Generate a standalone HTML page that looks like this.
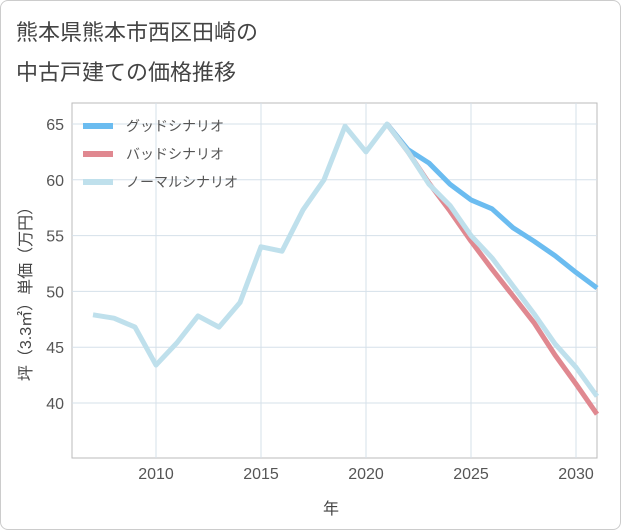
<!DOCTYPE html>
<html><head><meta charset="utf-8"><style>
body{margin:0;background:#fff;font-family:"Liberation Sans","Noto Sans CJK JP",sans-serif;}
.card{position:absolute;left:0;top:0;width:619px;height:528px;border:1px solid #ccc;border-radius:8px;background:#fff;}
</style></head><body>
<div class="card"></div>
<svg width="621" height="530" style="position:absolute;left:0;top:0">
<text x="16" y="40" font-size="22" fill="#444">熊本県熊本市西区田崎の</text>
<text x="16" y="80" font-size="22" fill="#444">中古戸建ての価格推移</text>
<g id="grid"></g><g id="series"></g><g id="legend"></g>
<text x="331" y="514" font-size="16" fill="#444" text-anchor="middle">年</text>
<text transform="translate(31,290) rotate(-90)" font-size="16" fill="#444" text-anchor="middle">坪（3.3㎡）単価（万円）</text>
</svg>
<script>
const years=[2007,2008,2009,2010,2011,2012,2013,2014,2015,2016,2017,2018,2019,2020,2021,2022,2023,2024,2025,2026,2027,2028,2029,2030,2031];
const normal=[47.9,47.6,46.8,43.4,45.4,47.8,46.8,49.0,54.0,53.6,57.3,60.0,64.8,62.5,65.0,62.5,59.6,57.7,55.0,53.0,50.5,48.0,45.3,43.2,40.6];
const fyears=[2021,2022,2023,2024,2025,2026,2027,2028,2029,2030,2031];
const good=[65.0,62.7,61.5,59.6,58.2,57.4,55.7,54.5,53.2,51.7,50.3];
const bad=[65.0,62.5,59.7,57.2,54.5,52.0,49.6,47.2,44.3,41.7,39.0];
const xTicks=[2010,2015,2020,2025,2030];
const yTicks=[40,45,50,55,60,65];
const labels=["グッドシナリオ","バッドシナリオ","ノーマルシナリオ"];
const NS="http://www.w3.org/2000/svg";
const X=y=>72+(y-2006)*21;
const Y=v=>124+(65-v)*11.16;
function mk(t,a,p){const e=document.createElementNS(NS,t);for(const k in a)e.setAttribute(k,a[k]);p.appendChild(e);return e;}
const g=document.getElementById('grid');
mk('rect',{x:72,y:103,width:525,height:355,fill:'none',stroke:'#bbb'},g);
xTicks.forEach(t=>{
 const l=mk('line',{x1:X(t),x2:X(t),y1:103,y2:458,stroke:'#d5e0ea'},g);
 
 
 const tx=mk('text',{x:X(t),y:479,'font-size':16,fill:'#555','text-anchor':'middle'},g);
 tx.textContent=t;
 
 
});
yTicks.forEach(t=>{
 const l=mk('line',{x1:72,x2:597,y1:Y(t),y2:Y(t),stroke:'#d5e0ea'},g);
 
 
 const tx=mk('text',{x:64,y:Y(t)+6,'font-size':16,fill:'#555','text-anchor':'end'},g);
 tx.textContent=t;
 
 
});
const s=document.getElementById('series');
function line(xs,vs,c,n){
 const p=mk('polyline',{points:xs.map((x,i)=>X(x)+','+Y(vs[i])).join(' '),fill:'none',stroke:c,'stroke-width':5,'stroke-linejoin':'round'},s);
 
 
}
line(fyears,good,'#6bbcf0','good-scenario-line');
line(fyears,bad,'#e08890','bad-scenario-line');
line(years,normal,'#bfe0ec','normal-scenario-line');
const lg=document.getElementById('legend');
const cols=['#6bbcf0','#e08890','#bfe0ec'];
labels.forEach((t,i)=>{
 const y=126+i*28;
 const r=mk('rect',{x:83,y:y-3,width:30,height:6,fill:cols[i]},lg);
 
 
 const tx=mk('text',{x:126,y:y+5,'font-size':14,fill:'#555'},lg);
 tx.textContent=t;
 
 
});
</script>
</body></html>
